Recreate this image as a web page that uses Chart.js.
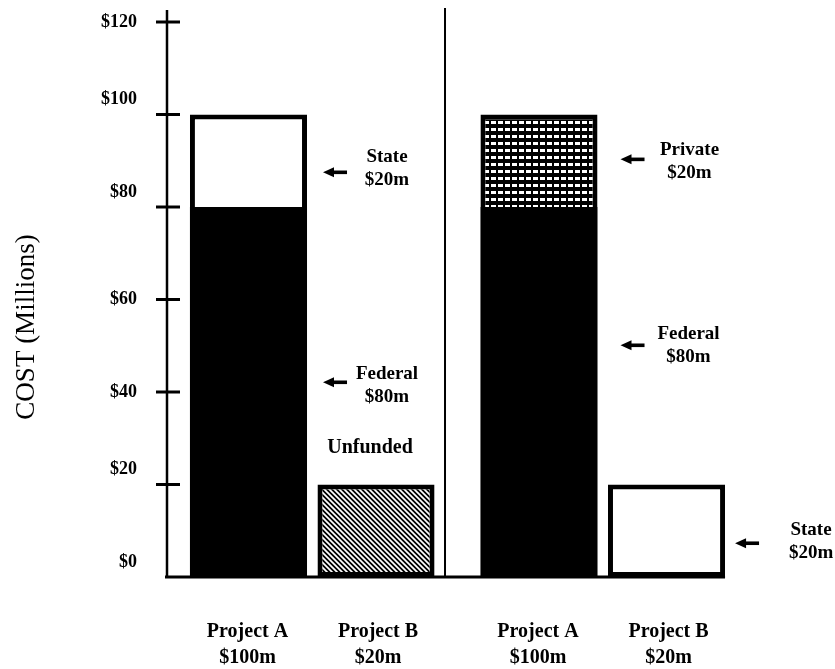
<!DOCTYPE html>
<html>
<head>
<meta charset="utf-8">
<script src="https://cdn.jsdelivr.net/npm/chart.js@4/dist/chart.umd.min.js"></script>
<style>
  html, body { margin: 0; padding: 0; background: #fff; }
  #wrap { width: 835px; height: 669px; position: relative; }
</style>
</head>
<body>
<div id="wrap"><canvas id="c" width="835" height="669"></canvas></div>
<script>
// Two funding scenarios side by side, each with Project A and Project B
const panels = ['Current', 'Proposed'];
const projects = ['Project A', 'Project B'];
const federalA = [80, 80];               // Project A, federal share ($m)
const upperA = [20, 20];                 // Project A, remaining share ($m)
const upperASource = ['State', 'Private'];
const shareB = [20, 20];                 // Project B ($m)
const shareBSource = ['Unfunded', 'State'];
const yTicks = [0, 20, 40, 60, 80, 100, 120];
// tick labels that sit a little above their tick mark
const raisedTicks = [0, 20, 80, 100];

const money = v => '$' + v + 'm';
const totalA = federalA.map((v, i) => v + upperA[i]);

// Callout layout: [panel, dataset, arrow value, text value, arrow gap from bar, text offset from arrow tip]
const callouts = [
  [0, 1, 87.5, 88.3, 16, 64],
  [0, 0, 42.1, 41.3, 16, 64],
  [1, 1, 90.3, 89.9, 23, 69],
  [1, 0, 50.1, 50.1, 23, 68],
  [1, 2, 7.3, 7.7, 10, 76]
];

const SERIF = '"Liberation Serif", "Times New Roman", serif';

function makePattern(size, draw) {
  const t = document.createElement('canvas');
  t.width = size[0]; t.height = size[1];
  const g = t.getContext('2d');
  g.fillStyle = '#000';
  g.fillRect(0, 0, t.width, t.height);
  draw(g);
  return g.createPattern(t, 'repeat');
}
const hatch = makePattern([5, 5], g => {
  g.strokeStyle = '#fff';
  g.lineWidth = 1.7;
  g.beginPath();
  g.moveTo(-1, -1); g.lineTo(6, 6);
  g.moveTo(-1, 4); g.lineTo(1, 6);
  g.moveTo(4, -1); g.lineTo(6, 1);
  g.stroke();
});
const mesh = makePattern([7, 7], g => {
  g.fillStyle = '#fff';
  g.fillRect(1, 2, 5, 3);
});

const fills = {
  State: '#fff',
  Private: mesh,
  Unfunded: hatch
};

function arrow(ctx, x, y) {
  ctx.beginPath();
  ctx.moveTo(x, y);
  ctx.lineTo(x + 11, y - 5);
  ctx.lineTo(x + 11, y + 5);
  ctx.closePath();
  ctx.fill();
  ctx.fillRect(x + 9, y - 1.8, 15, 3.6);
}

const decor = {
  id: 'decor',
  afterDatasetsDraw(chart) {
    const ctx = chart.ctx;
    const area = chart.chartArea;
    const ys = chart.scales.y;
    const bar = (ds, p) => chart.getDatasetMeta(ds).data[p];
    const right = el => el.x + el.width / 2;
    const left = el => el.x - el.width / 2;
    ctx.save();
    ctx.fillStyle = '#000';
    ctx.strokeStyle = '#000';

    // value axis with crossing tick marks
    ctx.lineWidth = 2.5;
    ctx.beginPath();
    ctx.moveTo(area.left, 10);
    ctx.lineTo(area.left, area.bottom);
    ctx.stroke();
    ctx.lineWidth = 3;
    yTicks.forEach(v => {
      if (v === 0) return;
      const y = ys.getPixelForValue(v);
      ctx.beginPath();
      ctx.moveTo(area.left - 11, y);
      ctx.lineTo(area.left + 13, y);
      ctx.stroke();
    });

    // baseline
    const lastB = bar(2, panels.length - 1);
    ctx.beginPath();
    ctx.moveTo(area.left - 2, area.bottom);
    ctx.lineTo(right(lastB), area.bottom);
    ctx.stroke();

    // divider between the two scenarios
    const gap = left(bar(2, 0)) - right(bar(0, 0));
    const dx = right(bar(2, 0)) + gap;
    ctx.lineWidth = 2;
    ctx.beginPath();
    ctx.moveTo(dx, 8);
    ctx.lineTo(dx, area.bottom);
    ctx.stroke();

    // callouts
    ctx.font = 'bold 19px ' + SERIF;
    ctx.textAlign = 'center';
    ctx.textBaseline = 'middle';
    callouts.forEach(([p, ds, av, tv, gapX, tOff]) => {
      const el = ds === 2 ? bar(2, p) : bar(0, p);
      const tipX = right(el) + gapX;
      const ay = ys.getPixelForValue(av);
      arrow(ctx, tipX, ay);
      let lines;
      if (ds === 0) lines = ['Federal', money(federalA[p])];
      else if (ds === 1) lines = [upperASource[p], money(upperA[p])];
      else lines = [shareBSource[p], money(shareB[p])];
      const ty = ys.getPixelForValue(tv);
      ctx.fillText(lines[0], tipX + tOff, ty - 11.5);
      ctx.fillText(lines[1], tipX + tOff, ty + 11.5);
    });

    // label above the unfunded bar
    const ub = bar(2, 0);
    ctx.font = 'bold 20px ' + SERIF;
    ctx.fillText(shareBSource[0], ub.x - 6, ys.getPixelForValue(28));

    // project names under the bars
    ctx.font = 'bold 20px ' + SERIF;
    ctx.textBaseline = 'alphabetic';
    panels.forEach((_, p) => {
      const a = bar(0, p), b = bar(2, p);
      ctx.fillText(projects[0], a.x - 1, 637);
      ctx.fillText(money(totalA[p]), a.x - 1, 663);
      ctx.fillText(projects[1], b.x + 2, 637);
      ctx.fillText(money(shareB[p]), b.x + 2, 663);
    });

    // value axis title
    ctx.font = '27px ' + SERIF;
    ctx.textBaseline = 'middle';
    ctx.translate(27, 327);
    ctx.rotate(-Math.PI / 2);
    ctx.fillText('COST (Millions)', 0, 0);
    ctx.restore();
  }
};

new Chart(document.getElementById('c'), {
  type: 'bar',
  data: {
    labels: panels,
    datasets: [
      {
        label: 'Federal',
        data: federalA,
        stack: 'A',
        backgroundColor: '#000',
        borderWidth: 0
      },
      {
        label: 'Project A remainder',
        data: upperA,
        stack: 'A',
        backgroundColor: upperASource.map(s => fills[s]),
        borderColor: '#000',
        borderWidth: 5,
        borderSkipped: 'start'
      },
      {
        label: 'Project B',
        data: shareB,
        stack: 'B',
        backgroundColor: shareBSource.map(s => fills[s]),
        borderColor: '#000',
        borderWidth: 5,
        borderSkipped: false
      }
    ]
  },
  options: {
    responsive: false,
    animation: false,
    devicePixelRatio: 1,
    datasets: { bar: { barPercentage: 0.918, categoryPercentage: 0.878 } },
    layout: { padding: { top: 22, right: 87, left: 0, bottom: 0 } },
    plugins: { legend: { display: false }, tooltip: { enabled: false } },
    scales: {
      x: {
        type: 'category',
        stacked: true,
        offset: true,
        grid: { display: false },
        border: { display: false },
        ticks: { display: false },
        afterFit(s) { s.height = 92; }
      },
      y: {
        min: 0,
        max: 120,
        stacked: true,
        afterBuildTicks(s) { s.ticks = yTicks.map(v => ({ value: v })); },
        ticks: {
          color: '#000',
          padding: 30,
          font: { family: SERIF, size: 18, weight: 'bold', lineHeight: 30 / 18 },
          // a blank second line lifts the label above its tick mark
          callback: v => raisedTicks.includes(v) ? ['$' + v, ''] : '$' + v
        },
        grid: { display: false, drawTicks: false },
        border: { display: false },
        afterFit(s) {
          s.width = 167;
          s.paddingTop = 0;
          s.paddingBottom = 0;
        }
      }
    }
  },
  plugins: [decor]
});
</script>
</body>
</html>
